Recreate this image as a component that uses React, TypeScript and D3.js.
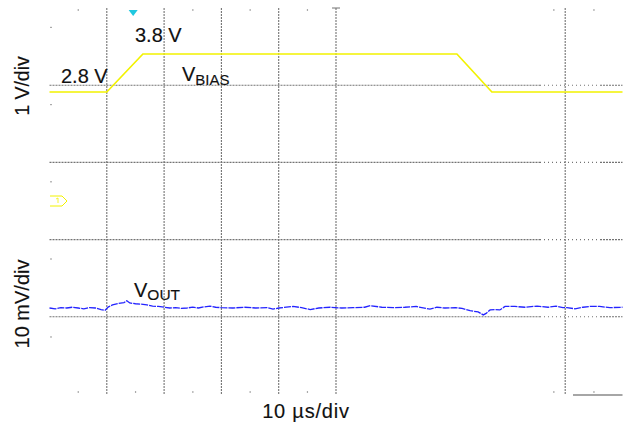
import React from "react";
import * as d3 from "d3";

// time in µs (10 µs/div), 10 divisions across
const timeDomain = [0, 100];
const vGridTimes = [10, 20, 30, 40, 50, 90];
const hGridDivs = [1, 2, 3, 4];
const topTickTimes = [5, 25, 35, 45, 88, 95];
const bottomTickTimes = [5, 15, 25, 35, 45, 88, 95];
const leftTickDivs = [0.25, 1.25, 2.25, 3.25, 4.26];

// V_BIAS trace (µs, V)
const biasT = [0, 10, 16.3, 71.1, 77.2, 100];
const biasV = [2.8, 2.8, 3.8, 3.8, 2.8, 2.8];

// V_OUT deviation trace (µs, mV)
const outT = [0, 1, 2, 3, 4, 5, 6, 7, 8, 9, 9.7, 10.3, 11, 12, 13, 13.5, 14, 15, 16, 17, 18, 19, 20, 21, 22, 23, 24, 25, 26, 27, 28, 29, 30, 32, 34, 36, 38, 39, 40, 42.5, 44, 45.5, 47, 49, 51, 53, 55, 56, 58, 60, 62, 64, 66.4, 67.6, 69, 70.8, 72, 73.4, 74.8, 75.7, 76.2, 76.9, 77.8, 78.6, 79.5, 81.2, 83, 85.1, 87, 88.4, 89.6, 90.3, 91.7, 93.1, 94.3, 96, 97.8, 100];
const outMv = [0, -0.1, 0.05, 0, 0.1, 0, -0.1, 0.05, 0, -0.2, -0.3, 0.15, 0.4, 0.6, 0.7, 0.95, 0.65, 0.55, 0.5, 0.4, 0.25, 0.2, 0.1, 0, 0.05, -0.05, 0, 0.1, 0, 0.15, 0.25, 0.1, 0.05, 0, 0.1, 0, 0.05, -0.15, 0, 0.2, 0.05, -0.2, 0, 0.1, 0, 0.05, 0.1, 0.3, 0.1, 0.05, 0.1, 0.2, -0.15, 0.1, 0, 0.05, -0.05, -0.35, -0.5, -0.9, -0.7, -0.25, -0.2, -0.25, 0.2, 0.2, 0.1, 0.25, 0.1, 0.25, 0.05, 0.05, -0.1, 0.1, 0.2, 0.2, 0.05, 0.1];

const W = 625;
const H = 428;
const FONT = "'Liberation Sans', Arial, Helvetica, sans-serif";

export default function App() {
  const x = d3.scaleLinear().domain(timeDomain).range([49.5, 622.5]);
  const gy = d3.scaleLinear().domain([0, 5]).range([8, 394]);
  const yBias = d3.scaleLinear().domain([2.8, 3.8]).range([92, 54]);
  const yOut = d3.scaleLinear().domain([0, 1]).range([308, 300.3]);

  const biasLine = d3
    .line<number>()
    .x((_, i) => x(biasT[i]))
    .y((v) => yBias(v))(biasV) as string;
  const outLine = d3
    .line<number>()
    .x((_, i) => x(outT[i]))
    .y((v) => yOut(v))
    .curve(d3.curveLinear)(outMv) as string;

  const gridColor = "#737373";
  const x0 = x(0);
  const x1 = x(100);
  const xSparse0 = 540;
  const xSparse1 = 600;

  return (
    <svg
      width={W}
      height={H}
      viewBox={`0 0 ${W} ${H}`}
      style={{ position: "absolute", left: 0, top: 0, background: "#fff" }}
    >
      {/* horizontal grid */}
      {hGridDivs.map((d) => (
        <g key={"h" + d}>
          <line x1={x0} x2={xSparse0} y1={gy(d)} y2={gy(d)} stroke={gridColor} strokeWidth={1.1} strokeDasharray="2,1" />
          <line x1={xSparse0} x2={xSparse1} y1={gy(d)} y2={gy(d)} stroke={gridColor} strokeWidth={1.1} strokeDasharray="1,3" />
          <line x1={xSparse1} x2={x1} y1={gy(d)} y2={gy(d)} stroke={gridColor} strokeWidth={1.1} strokeDasharray="2,1" />
        </g>
      ))}
      {/* vertical grid */}
      {vGridTimes.map((t) => (
        <line key={"v" + t} x1={x(t)} x2={x(t)} y1={gy(0)} y2={gy(5) + 1} stroke={gridColor} strokeWidth={1.1} strokeDasharray="2,1" />
      ))}
      {/* center trigger T mark */}
      <line x1={x(50) - 4} x2={x(50) + 4} y1={gy(0)} y2={gy(0)} stroke={gridColor} strokeWidth={1} />
      {/* small ticks */}
      {topTickTimes.map((t) => (
        <rect key={"tt" + t} x={x(t) - 0.5} y={gy(0) + 1} width={1.2} height={2} fill="#aaa" />
      ))}
      {bottomTickTimes.map((t) => (
        <rect key={"bt" + t} x={x(t) - 0.5} y={gy(5) - 3} width={1.2} height={2} fill="#aaa" />
      ))}
      {leftTickDivs.map((d) => (
        <rect key={"lt" + d} x={50} y={gy(d) - 0.5} width={2} height={1.2} fill="#aaa" />
      ))}
      {/* bottom-right bar */}
      <line x1={573} x2={x1} y1={395} y2={395} stroke="#888" strokeWidth={1.4} />

      {/* V_BIAS trace */}
      <path d={biasLine} fill="none" stroke="#f2f200" strokeWidth={1.7} />
      {/* V_OUT trace */}
      <path d={outLine} fill="none" stroke="#2424ff" strokeWidth={1.3} strokeDasharray="7,1" />

      {/* trigger marker */}
      <path d={`M${x(14.6) - 4.5},10 L${x(14.6) + 4.5},10 L${x(14.6)},16 Z`} fill="#20c8e0" />
      {/* channel 1 marker */}
      <g fill="none" stroke="#f2f200" strokeWidth={1}>
        <path d="M50,196 L62,196 L67,201 L62,206 L50,206" />
        <path d="M56,199 L58,198 L58,203" strokeWidth={0.8} />
      </g>

      {/* annotations */}
      <g fontFamily={FONT} fill="#111" stroke="#111" strokeWidth={0.15}>
        <text x={135} y={42} fontSize={20}>3.8 V</text>
        <text x={61} y={82.5} fontSize={20}>2.8 V</text>
        <text x={182} y={81} fontSize={20}>
          V<tspan fontSize={15} dy={4}>BIAS</tspan>
        </text>
        <text x={134} y={297} fontSize={20}>
          V<tspan fontSize={15.5} dy={3}>OUT</tspan>
        </text>
        <text transform="translate(29,86) rotate(-90)" textAnchor="middle" fontSize={19.5}>1 V/div</text>
        <text transform="translate(29,304) rotate(-90)" textAnchor="middle" fontSize={20}>10 mV/div</text>
        <text x={306} y={418} textAnchor="middle" fontSize={20} letterSpacing={0.8}>10 µs/div</text>
      </g>
    </svg>
  );
}
